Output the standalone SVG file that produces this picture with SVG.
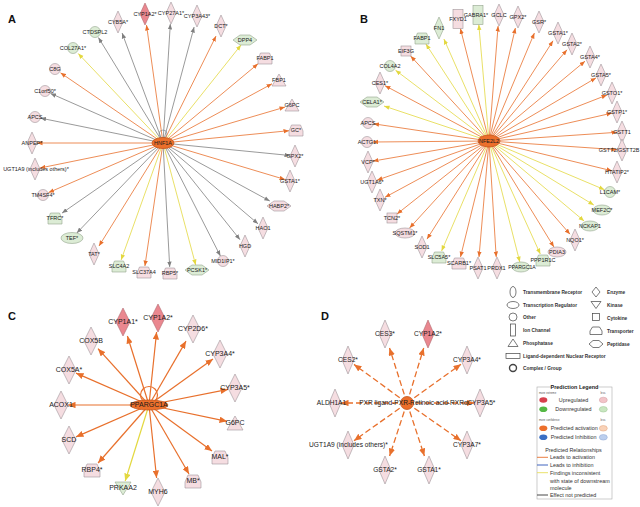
<svg xmlns="http://www.w3.org/2000/svg" width="640" height="507" viewBox="0 0 640 507">
<style>
text{font-family:"Liberation Sans",Arial,sans-serif;fill:#1a1a1a}
.t{font-size:5.5px;text-anchor:middle}
.T{font-size:7px;text-anchor:middle}
.Td{font-size:6.6px;text-anchor:middle}
.pl{font-size:11px;font-weight:bold;fill:#111}
.pk{fill:#f5dde1;stroke:#a0969a;stroke-width:.6}
.rd{fill:#ea878f;stroke:#b06a70;stroke-width:.6}
.gr{fill:#dcecd5;stroke:#93a48d;stroke-width:.6}
.ctr{fill:#ec6f2b;stroke:#c4561c;stroke-width:.8}
.eo,.ey,.eg{fill:none;stroke-width:.8}
.eo{stroke:#e8702c;marker-end:url(#mo)}
.ey{stroke:#e3d840;marker-end:url(#my)}
.eg{stroke:#808080;marker-end:url(#mg)}
.EO{fill:none;stroke:#e8702c;stroke-width:1.2;marker-end:url(#MO)}
.EY{fill:none;stroke:#e3d840;stroke-width:1.2;marker-end:url(#MY)}
.ED{fill:none;stroke:#e8702c;stroke-width:1.3;stroke-dasharray:6 3;marker-end:url(#MO)}
.lg{fill:#fff;stroke:#444;stroke-width:.7}
.lt{font-size:4.8px;font-weight:bold;fill:#333}
.pt{font-size:5.4px;fill:#333}
.st{font-size:2.8px;fill:#555}
</style>
<defs>
<marker id="mo" viewBox="0 -2.5 5.5 5" refX="5.5" refY="0" markerWidth="5.5" markerHeight="5" markerUnits="userSpaceOnUse" orient="auto"><path d="M0,-2.2L5.5,0L0,2.2Z" fill="#e8702c"/></marker>
<marker id="my" viewBox="0 -2.5 5.5 5" refX="5.5" refY="0" markerWidth="5.5" markerHeight="5" markerUnits="userSpaceOnUse" orient="auto"><path d="M0,-2.2L5.5,0L0,2.2Z" fill="#e3d840"/></marker>
<marker id="mg" viewBox="0 -2.5 5.5 5" refX="5.5" refY="0" markerWidth="5.5" markerHeight="5" markerUnits="userSpaceOnUse" orient="auto"><path d="M0,-2.2L5.5,0L0,2.2Z" fill="#808080"/></marker>
<marker id="MO" viewBox="0 -3.2 7.5 6.4" refX="7.5" refY="0" markerWidth="7.5" markerHeight="6.4" markerUnits="userSpaceOnUse" orient="auto"><path d="M0,-3.2L7.5,0L0,3.2Z" fill="#e8702c"/></marker>
<marker id="MY" viewBox="0 -3.2 7.5 6.4" refX="7.5" refY="0" markerWidth="7.5" markerHeight="6.4" markerUnits="userSpaceOnUse" orient="auto"><path d="M0,-3.2L7.5,0L0,3.2Z" fill="#e3d840"/></marker>
<path id="dm" d="M0,-11L5,0L0,11L-5,0Z"/>
<circle id="ci" r="5.5"/>
<ellipse id="el" rx="9" ry="5"/>
<ellipse id="elw" rx="11" ry="5.5"/>
<path id="tp" d="M-7,6V1L-4.5,-5H4.5L7,1V6Z"/>
<path id="ph" d="M0,-6L7,6H-7Z"/>
<path id="pp" d="M-12,0L-5,-5H5L12,0L5,5H-5Z"/>
<rect id="ic" x="-5" y="-9.5" width="10" height="19"/>
<rect id="sq" x="-5" y="-5" width="10" height="10"/>
<path id="DM" d="M0,-14L7,0L0,14L-7,0Z"/>
<path id="Dd" d="M0,-14L6,0L0,14L-6,0Z"/>
<path id="TP" d="M-8,7V1L-5,-6H5L8,1V7Z"/>
<path id="PH" d="M0,-7L8,7H-8Z"/>
<path id="KN" d="M-8,-6H8L0,7Z"/>
</defs>
<rect width="640" height="507" fill="#fff"/>
<text class="pl" x="8" y="23">A</text>
<text class="pl" x="360" y="23">B</text>
<text class="pl" x="8" y="320">C</text>
<text class="pl" x="321" y="320">D</text>

<g id="connectors">
<g id="edges-a">
<circle cx="163" cy="134" r="4" fill="none" stroke="#8fa3b0" stroke-width=".8"/>
<path class="eg" d="M163,143L122.1,33"/>
<path class="eo" d="M163,143L146.5,25"/>
<path class="eg" d="M163,143L170.3,24"/>
<path class="eg" d="M163,143L194.1,27"/>
<path class="eo" d="M163,143L216,36.1"/>
<path class="ey" d="M163,143L241,45"/>
<path class="eo" d="M163,143L258,63.8"/>
<path class="eo" d="M163,143L272,83.8"/>
<path class="eo" d="M163,143L285,107.1"/>
<path class="eo" d="M163,143L289,130.7"/>
<path class="eg" d="M163,143L290,155.5"/>
<path class="eo" d="M163,143L285,179.5"/>
<path class="eg" d="M163,143L269.8,201"/>
<path class="eg" d="M163,143L258,223.8"/>
<path class="eg" d="M163,143L240,239.7"/>
<path class="eg" d="M163,143L220.4,256"/>
<path class="ey" d="M163,143L195.7,265"/>
<path class="eg" d="M163,143L169.7,267"/>
<path class="eo" d="M163,143L144.9,266"/>
<path class="ey" d="M163,143L121.1,260"/>
<path class="eo" d="M163,143L99,246"/>
<path class="eg" d="M163,143L76.8,233"/>
<path class="eg" d="M163,143L62,213.1"/>
<path class="eo" d="M163,143L48.5,192.6"/>
<path class="eo" d="M163,143L40,168"/>
<path class="eo" d="M163,143L37,143"/>
<path class="eg" d="M163,143L40.5,118.1"/>
<path class="eg" d="M163,143L50.5,93.4"/>
<path class="eo" d="M163,143L60.5,72.8"/>
<path class="ey" d="M163,143L78.2,53.5"/>
<path class="eg" d="M163,143L98.4,37.5"/>
</g>
<g id="edges-b">
<path class="eo" d="M489,141L460.4,28.5"/>
<path class="ey" d="M489,141L478.8,24.5"/>
<path class="eo" d="M489,141L498.1,26"/>
<path class="eo" d="M489,141L515.4,28"/>
<path class="eo" d="M489,141L534.4,33"/>
<path class="eo" d="M489,141L553,40.8"/>
<path class="eo" d="M489,141L567,49.8"/>
<path class="eo" d="M489,141L585,61.2"/>
<path class="eo" d="M489,141L596,77.9"/>
<path class="eo" d="M489,141L607,95"/>
<path class="eo" d="M489,141L612,113.1"/>
<path class="eo" d="M489,141L617,132.3"/>
<path class="eo" d="M489,141L617,149.7"/>
<path class="eo" d="M489,141L612,170.8"/>
<path class="ey" d="M489,141L604.5,189.7"/>
<path class="ey" d="M489,141L593.8,205"/>
<path class="ey" d="M489,141L584.1,221"/>
<path class="eo" d="M489,141L570,234.2"/>
<path class="eo" d="M489,141L553.9,247"/>
<path class="ey" d="M489,141L540.3,254"/>
<path class="ey" d="M489,141L519.8,262"/>
<path class="eo" d="M489,141L496.2,257"/>
<path class="eo" d="M489,141L479,257"/>
<path class="eo" d="M489,141L460.5,257"/>
<path class="ey" d="M489,141L441.6,251"/>
<path class="eo" d="M489,141L427,239.1"/>
<path class="eo" d="M489,141L409.6,228"/>
<path class="eo" d="M489,141L397,214"/>
<path class="eo" d="M489,141L385,197.3"/>
<path class="eo" d="M489,141L377,180.2"/>
<path class="eo" d="M489,141L373,161.1"/>
<path class="eo" d="M489,141L372.5,142"/>
<path class="eo" d="M489,141L373.5,123.8"/>
<path class="ey" d="M489,141L384,106"/>
<path class="eo" d="M489,141L385,85.7"/>
<path class="ey" d="M489,141L395.5,70.2"/>
<path class="eo" d="M489,141L410.6,56"/>
<path class="ey" d="M489,141L425.9,44"/>
<path class="ey" d="M489,141L443.9,39"/>
</g>
<g id="edges-c">
<circle cx="149" cy="395" r="8.5" fill="none" stroke="#e8702c" stroke-width="1.2"/>
<path class="EO" d="M149,405L127.4,336"/>
<path class="EO" d="M149,405L156.6,332"/>
<path class="EO" d="M149,405L186,341.1"/>
<path class="EO" d="M149,405L213,359"/>
<path class="EO" d="M149,405L228,389.4"/>
<path class="EO" d="M149,405L227,421.3"/>
<path class="EO" d="M149,405L212,451.1"/>
<path class="EO" d="M149,405L189,474"/>
<path class="EO" d="M149,405L156.6,478"/>
<path class="EY" d="M149,405L125.2,481"/>
<path class="EO" d="M149,405L98.1,463"/>
<path class="EO" d="M149,405L76,436.9"/>
<path class="EO" d="M149,405L68,405"/>
<path class="EO" d="M149,405L76,373.1"/>
<path class="EO" d="M149,405L98,348.7"/>
</g>
<g id="edges-d">
<path class="ED" d="M407,403L389.5,348"/>
<path class="ED" d="M407,403L423.7,348"/>
<path class="ED" d="M407,403L461,364.3"/>
<path class="ED" d="M407,403L474,403"/>
<path class="ED" d="M407,403L461,440.8"/>
<path class="ED" d="M407,403L424.4,456"/>
<path class="ED" d="M407,403L389.6,456"/>
<path class="ED" d="M407,403L354,440.7"/>
<path class="ED" d="M407,403L341,403"/>
<path class="ED" d="M407,403L354,364.4"/>
</g>
</g>

<g id="panel-a">
<g id="a-hnf1a"><ellipse cx="163" cy="143" rx="11" ry="5.5" class="ctr"/><text class="t" x="163" y="145">HNF1A</text></g>
<g id="a-cyb5a"><use href="#dm" x="118" y="22" class="pk"/><text class="t" x="118" y="24">CYB5A*</text></g>
<g id="a-cyp1a2"><use href="#dm" x="145" y="14" class="rd"/><text class="t" x="145" y="16">CYP1A2*</text></g>
<g id="a-cyp27a1"><use href="#dm" x="171" y="13" class="pk"/><text class="t" x="171" y="15">CYP27A1*</text></g>
<g id="a-cyp3a43"><use href="#dm" x="197" y="16" class="pk"/><text class="t" x="197" y="18">CYP3A43*</text></g>
<g id="a-dct"><use href="#dm" x="221" y="26" class="pk"/><text class="t" x="221" y="28">DCT*</text></g>
<g id="a-dpp4"><use href="#pp" x="245" y="40" class="gr"/><text class="t" x="245" y="42">DPP4</text></g>
<g id="a-fabp1"><use href="#tp" x="265" y="58" class="pk"/><text class="t" x="265" y="60">FABP1</text></g>
<g id="a-fbp1"><use href="#ph" x="279" y="80" class="pk"/><text class="t" x="279" y="82">FBP1</text></g>
<g id="a-g6pc"><use href="#ph" x="292" y="105" class="pk"/><text class="t" x="292" y="107">G6PC</text></g>
<g id="a-gc"><use href="#tp" x="296" y="130" class="pk"/><text class="t" x="296" y="132">GC*</text></g>
<g id="a-gpx2"><use href="#dm" x="295" y="156" class="pk"/><text class="t" x="295" y="158">GPX2*</text></g>
<g id="a-gsta1"><use href="#dm" x="290" y="181" class="pk"/><text class="t" x="290" y="183">GSTA1*</text></g>
<g id="a-habp2"><use href="#pp" x="279" y="206" class="pk"/><text class="t" x="279" y="208">HABP2*</text></g>
<g id="a-hao1"><use href="#dm" x="263" y="228" class="pk"/><text class="t" x="263" y="230">HAO1</text></g>
<g id="a-hgd"><use href="#dm" x="245" y="246" class="pk"/><text class="t" x="245" y="248">HGD</text></g>
<g id="a-mid1ip1"><use href="#ci" x="223" y="261" class="pk"/><text class="t" x="223" y="263">MID1IP1*</text></g>
<g id="a-pcsk1"><use href="#pp" x="197" y="270" class="gr"/><text class="t" x="197" y="272">PCSK1*</text></g>
<g id="a-rbp5"><use href="#tp" x="170" y="273" class="pk"/><text class="t" x="170" y="275">RBP5*</text></g>
<g id="a-slc37a4"><use href="#tp" x="144" y="272" class="pk"/><text class="t" x="144" y="274">SLC37A4</text></g>
<g id="a-slc4a2"><use href="#tp" x="119" y="266" class="gr"/><text class="t" x="119" y="268">SLC4A2</text></g>
<g id="a-tat"><use href="#dm" x="94" y="254" class="pk"/><text class="t" x="94" y="256">TAT*</text></g>
<g id="a-tef"><use href="#elw" x="72" y="238" class="gr"/><text class="t" x="72" y="240">TEF*</text></g>
<g id="a-tfrc"><use href="#tp" x="55" y="218" class="gr"/><text class="t" x="55" y="220">TFRC*</text></g>
<g id="a-tm4sf4"><use href="#ci" x="43" y="195" class="pk"/><text class="t" x="43" y="197">TM4SF4*</text></g>
<g id="a-ugt1a9"><use href="#dm" x="35" y="169" class="pk"/><text class="t" x="36" y="171">UGT1A9 (includes others)*</text></g>
<g id="a-anpep"><use href="#dm" x="32" y="143" class="pk"/><text class="t" x="32" y="145">ANPEP*</text></g>
<g id="a-apcs"><use href="#ci" x="35" y="117" class="pk"/><text class="t" x="35" y="119">APCS</text></g>
<g id="a-c1orf50"><use href="#ci" x="45" y="91" class="pk"/><text class="t" x="45" y="93">C1orf50*</text></g>
<g id="a-c8g"><use href="#ci" x="55" y="69" class="pk"/><text class="t" x="55" y="71">C8G</text></g>
<g id="a-col27a1"><use href="#ci" x="73" y="48" class="gr"/><text class="t" x="73" y="50">COL27A1*</text></g>
<g id="a-ctdspl2"><use href="#ci" x="95" y="32" class="gr"/><text class="t" x="95" y="34">CTDSPL2</text></g>
</g>

<g id="panel-b">
<g id="b-nfe2l2"><ellipse cx="489" cy="141" rx="11" ry="6" class="ctr"/><text class="t" x="489" y="143">NFE2L2</text></g>
<g id="b-fxyd1"><use href="#ic" x="458" y="19" class="pk"/><text class="t" x="458" y="21">FXYD1</text></g>
<g id="b-gabra1"><use href="#ic" x="478" y="15" class="gr"/><text class="t" x="476" y="17">GABRA1*</text></g>
<g id="b-gclc"><use href="#dm" x="499" y="15" class="pk"/><text class="t" x="499" y="17">GCLC</text></g>
<g id="b-gpx2"><use href="#dm" x="518" y="17" class="pk"/><text class="t" x="518" y="19">GPX2*</text></g>
<g id="b-gsr"><use href="#dm" x="539" y="22" class="pk"/><text class="t" x="539" y="24">GSR*</text></g>
<g id="b-gsta1"><use href="#dm" x="558" y="33" class="pk"/><text class="t" x="558" y="35">GSTA1*</text></g>
<g id="b-gsta2"><use href="#dm" x="572" y="44" class="pk"/><text class="t" x="572" y="46">GSTA2*</text></g>
<g id="b-gsta4"><use href="#dm" x="590" y="57" class="pk"/><text class="t" x="590" y="59">GSTA4*</text></g>
<g id="b-gsta5"><use href="#dm" x="601" y="75" class="pk"/><text class="t" x="601" y="77">GSTA5*</text></g>
<g id="b-gsto1"><use href="#dm" x="612" y="93" class="pk"/><text class="t" x="612" y="95">GSTO1*</text></g>
<g id="b-gstp1"><use href="#dm" x="617" y="112" class="pk"/><text class="t" x="617" y="114">GSTP1*</text></g>
<g id="b-gstt1"><use href="#dm" x="622" y="132" class="pk"/><text class="t" x="622" y="134">GSTT1</text></g>
<g id="b-gstt2"><use href="#dm" x="622" y="150" class="pk"/><text class="t" x="639.5" y="152" style="text-anchor:end">GSTT2/GSTT2B</text></g>
<g id="b-htatip2"><use href="#dm" x="617" y="172" class="pk"/><text class="t" x="617" y="174">HTATIP2*</text></g>
<g id="b-l1cam"><use href="#ci" x="610" y="192" class="gr"/><text class="t" x="610" y="194">L1CAM*</text></g>
<g id="b-mef2c"><use href="#el" x="602" y="210" class="gr"/><text class="t" x="602" y="212">MEF2C*</text></g>
<g id="b-nckap1"><use href="#el" x="590" y="226" class="gr"/><text class="t" x="590" y="228">NCKAP1</text></g>
<g id="b-nqo1"><use href="#dm" x="575" y="240" class="pk"/><text class="t" x="575" y="242">NQO1*</text></g>
<g id="b-pdia3"><use href="#el" x="557" y="252" class="pk"/><text class="t" x="557" y="254">PDIA3</text></g>
<g id="b-ppp1r1c"><use href="#tp" x="543" y="260" class="gr"/><text class="t" x="543" y="262">PPP1R1C</text></g>
<g id="b-ppargc1a"><use href="#el" x="521" y="267" class="gr"/><text class="t" x="522" y="269" style="font-size:5.1px">PPARGC1A</text></g>
<g id="b-prdx1"><use href="#dm" x="497" y="268" class="pk"/><text class="t" x="496.5" y="270">PRDX1</text></g>
<g id="b-psat1"><use href="#dm" x="478" y="268" class="pk"/><text class="t" x="478" y="270">PSAT1</text></g>
<g id="b-scarb1"><use href="#tp" x="459" y="263" class="pk"/><text class="t" x="459" y="265">SCARB1*</text></g>
<g id="b-slc5a5"><use href="#tp" x="439" y="257" class="gr"/><text class="t" x="439" y="259">SLC5A5*</text></g>
<g id="b-sod1"><use href="#dm" x="422" y="247" class="pk"/><text class="t" x="422" y="249">SOD1</text></g>
<g id="b-sqstm1"><ellipse cx="405" cy="233" rx="10" ry="5" class="pk"/><text class="t" x="405" y="235">SQSTM1*</text></g>
<g id="b-tcn2"><use href="#sq" x="392" y="218" class="pk"/><text class="t" x="392" y="220">TCN2*</text></g>
<g id="b-txn"><use href="#dm" x="380" y="200" class="pk"/><text class="t" x="380" y="202">TXN*</text></g>
<g id="b-ugt1a6"><use href="#dm" x="372" y="182" class="pk"/><text class="t" x="372" y="184">UGT1A6*</text></g>
<g id="b-vcp"><use href="#dm" x="368" y="162" class="pk"/><text class="t" x="368" y="164">VCP*</text></g>
<g id="b-actg1"><use href="#ci" x="367" y="142" class="pk"/><text class="t" x="367" y="144">ACTG1</text></g>
<g id="b-apcs"><use href="#ci" x="368" y="123" class="pk"/><text class="t" x="368" y="125">APCS</text></g>
<g id="b-cela1"><use href="#pp" x="372" y="102" class="gr"/><text class="t" x="372" y="104">CELA1*</text></g>
<g id="b-ces1"><use href="#dm" x="380" y="83" class="pk"/><text class="t" x="380" y="85">CES1*</text></g>
<g id="b-col4a2"><use href="#ci" x="390" y="66" class="gr"/><text class="t" x="390" y="68">COL4A2</text></g>
<g id="b-eif3g"><use href="#sq" x="406" y="51" class="pk"/><text class="t" x="406" y="53">EIF3G</text></g>
<g id="b-fabp1"><use href="#tp" x="422" y="38" class="gr"/><text class="t" x="422" y="40">FABP1</text></g>
<g id="b-fn1"><use href="#dm" x="439" y="28" class="gr"/><text class="t" x="439" y="30">FN1</text></g>
</g>

<g id="panel-c">
<g id="c-ppargc1a"><ellipse cx="149" cy="405" rx="19" ry="5" class="ctr"/><text class="T" x="149" y="407.4">PPARGC1A</text></g>
<g id="c-cyp1a1"><use href="#DM" x="123" y="322" class="rd"/><text class="T" x="123" y="324.4">CYP1A1*</text></g>
<g id="c-cyp1a2"><use href="#DM" x="158" y="318" class="rd"/><text class="T" x="158" y="320.4">CYP1A2*</text></g>
<g id="c-cyp2d6"><use href="#DM" x="193" y="329" class="pk"/><text class="T" x="193" y="331.4">CYP2D6*</text></g>
<g id="c-cyp3a4"><use href="#DM" x="220" y="354" class="pk"/><text class="T" x="220" y="356.4">CYP3A4*</text></g>
<g id="c-cyp3a5"><use href="#DM" x="235" y="388" class="pk"/><text class="T" x="235" y="390.4">CYP3A5*</text></g>
<g id="c-g6pc"><use href="#PH" x="235" y="423" class="pk"/><text class="T" x="235" y="425.4">G6PC</text></g>
<g id="c-mal"><use href="#TP" x="220" y="457" class="pk"/><text class="T" x="220" y="459.4">MAL*</text></g>
<g id="c-mb"><use href="#TP" x="193" y="481" class="pk"/><text class="T" x="193" y="483.4">MB*</text></g>
<g id="c-myh6"><use href="#DM" x="158" y="492" class="pk"/><text class="T" x="158" y="494.4">MYH6</text></g>
<g id="c-prkaa2"><use href="#KN" x="123" y="488" class="gr"/><text class="T" x="123" y="490.4">PRKAA2</text></g>
<g id="c-rbp4"><use href="#TP" x="92" y="470" class="pk"/><text class="T" x="92" y="472.4">RBP4*</text></g>
<g id="c-scd"><use href="#DM" x="69" y="440" class="pk"/><text class="T" x="69" y="442.4">SCD</text></g>
<g id="c-acox1"><use href="#DM" x="61" y="405" class="pk"/><text class="T" x="61" y="407.4">ACOX1</text></g>
<g id="c-cox5a"><use href="#DM" x="69" y="370" class="pk"/><text class="T" x="69" y="372.4">COX5A*</text></g>
<g id="c-cox5b"><use href="#DM" x="91" y="341" class="pk"/><text class="T" x="91" y="343.4">COX5B</text></g>
</g>

<g id="panel-d">
<g id="d-center"><circle cx="407" cy="403" r="6.5" class="ctr"/><text class="Td" x="413.5" y="405.4">PXR ligand-PXR-Retinoic acid-RXRα</text></g>
<g id="d-ces3"><use href="#Dd" x="385" y="334" class="pk"/><text class="Td" x="385" y="336.4">CES3*</text></g>
<g id="d-cyp1a2"><use href="#Dd" x="428" y="334" class="rd"/><text class="Td" x="428" y="336.4">CYP1A2*</text></g>
<g id="d-cyp3a4"><use href="#Dd" x="467" y="360" class="pk"/><text class="Td" x="467" y="362.4">CYP3A4*</text></g>
<g id="d-cyp3a5"><use href="#Dd" x="480" y="403" class="pk"/><text class="Td" x="481.5" y="405.4">CYP3A5*</text></g>
<g id="d-cyp3a7"><use href="#Dd" x="467" y="445" class="pk"/><text class="Td" x="467" y="447.4">CYP3A7*</text></g>
<g id="d-gsta1"><use href="#Dd" x="429" y="470" class="pk"/><text class="Td" x="429" y="472.4">GSTA1*</text></g>
<g id="d-gsta2"><use href="#Dd" x="385" y="470" class="pk"/><text class="Td" x="385" y="472.4">GSTA2*</text></g>
<g id="d-ugt1a9"><use href="#Dd" x="348" y="445" class="pk"/><text class="Td" x="348.5" y="447.4">UGT1A9 (includes others)*</text></g>
<g id="d-aldh1a1"><use href="#Dd" x="335" y="403" class="pk"/><text class="Td" x="331.5" y="405.4">ALDH1A1</text></g>
<g id="d-ces2"><use href="#Dd" x="348" y="360" class="pk"/><text class="Td" x="348" y="362.4">CES2*</text></g>
</g>

<g id="legend-shapes">
<ellipse cx="513" cy="292" rx="3" ry="5.5" class="lg"/><text class="lt" x="523" y="294">Transmembrane Receptor</text>
<path d="M596,287L600,292L596,297L592,292Z" class="lg"/><text class="lt" x="607" y="294">Enzyme</text>
<ellipse cx="513" cy="305" rx="6" ry="3.5" class="lg"/><text class="lt" x="523" y="307">Transcription Regulator</text>
<path d="M591,301.5H601L596,308.5Z" class="lg"/><text class="lt" x="607" y="307">Kinase</text>
<circle cx="513" cy="317" r="4" class="lg"/><text class="lt" x="523" y="319">Other</text>
<rect x="592.5" y="313.5" width="7" height="7" class="lg"/><text class="lt" x="607" y="319.5">Cytokine</text>
<rect x="510.5" y="324" width="5" height="12" class="lg"/><text class="lt" x="523" y="332">Ion Channel</text>
<path d="M590,334.5V331L592.5,327H599.5L602,331V334.5Z" class="lg"/><text class="lt" x="607" y="333">Transporter</text>
<path d="M513,339L518,346.5H508Z" class="lg"/><text class="lt" x="523" y="345">Phosphatase</text>
<path d="M589,344L593,340.5H599L603,344L599,347.5H593Z" class="lg"/><text class="lt" x="607" y="346">Peptidase</text>
<rect x="506" y="353.5" width="14" height="5" class="lg"/><text class="lt" x="523" y="358">Ligand-dependent Nuclear Receptor</text>
<circle cx="513" cy="368" r="3.5" class="lg" style="stroke-width:1.4"/><text class="lt" x="523" y="370">Complex / Group</text>
</g>

<g id="legend-prediction">
<rect x="537" y="387" width="75" height="112" fill="#fff" stroke="#aaa" stroke-width=".6"/>
<rect x="552" y="384" width="45" height="6" fill="#fff"/>
<text x="574.5" y="389" style="font-size:5.5px;font-weight:bold;text-anchor:middle;fill:#222">Prediction Legend</text>
<text class="st" x="539" y="394">more extreme</text><text class="st" x="603" y="394" style="text-anchor:middle">less</text>
<ellipse cx="543.3" cy="400" rx="4" ry="2.8" fill="#d7404d"/><text class="pt" x="573.5" y="402" style="text-anchor:middle">Upregulated</text><ellipse cx="603.3" cy="400" rx="4" ry="2.8" fill="#f2c4c8" stroke="#d39aa0" stroke-width=".5"/>
<ellipse cx="543.3" cy="409.3" rx="4" ry="2.8" fill="#55b845"/><text class="pt" x="573.5" y="411.3" style="text-anchor:middle">Downregulated</text><ellipse cx="603.3" cy="409.3" rx="4" ry="2.8" fill="#c8e6c0" stroke="#9cc493" stroke-width=".5"/>
<text class="st" x="539" y="421">more confidence</text><text class="st" x="603" y="421" style="text-anchor:middle">less</text>
<ellipse cx="543.3" cy="428.3" rx="4" ry="2.8" fill="#ec6f2b"/><text class="pt" x="550.7" y="430.3">Predicted activation</text><ellipse cx="603.3" cy="428.3" rx="4" ry="2.8" fill="#f9d2b8" stroke="#e0a27a" stroke-width=".5"/>
<ellipse cx="543.3" cy="437.3" rx="4" ry="2.8" fill="#3a6fc4"/><text class="pt" x="550.7" y="439.3">Predicted Inhibition</text><ellipse cx="603.3" cy="437.3" rx="4" ry="2.8" fill="#bccfee" stroke="#8ea6d2" stroke-width=".5"/>
<text class="pt" x="573.5" y="452" style="text-anchor:middle">Predicted Relationships</text>
<path d="M537,457.3H548" stroke="#e8702c" stroke-width=".9"/><text class="pt" x="550" y="459.3">Leads to activation</text>
<path d="M537,465H548" stroke="#2a52b8" stroke-width=".9"/><text class="pt" x="550" y="467">Leads to inhibition</text>
<path d="M537,472.7H548" stroke="#e8df5a" stroke-width=".9"/><text class="pt" x="550" y="474.7">Findings inconsistent</text>
<text class="pt" x="550" y="482.7">with state of downstream</text>
<text class="pt" x="550" y="490">molecule</text>
<path d="M537,495H548" stroke="#333" stroke-width=".9"/><text class="pt" x="550" y="497">Effect not predicted</text>
</g>
</svg>
